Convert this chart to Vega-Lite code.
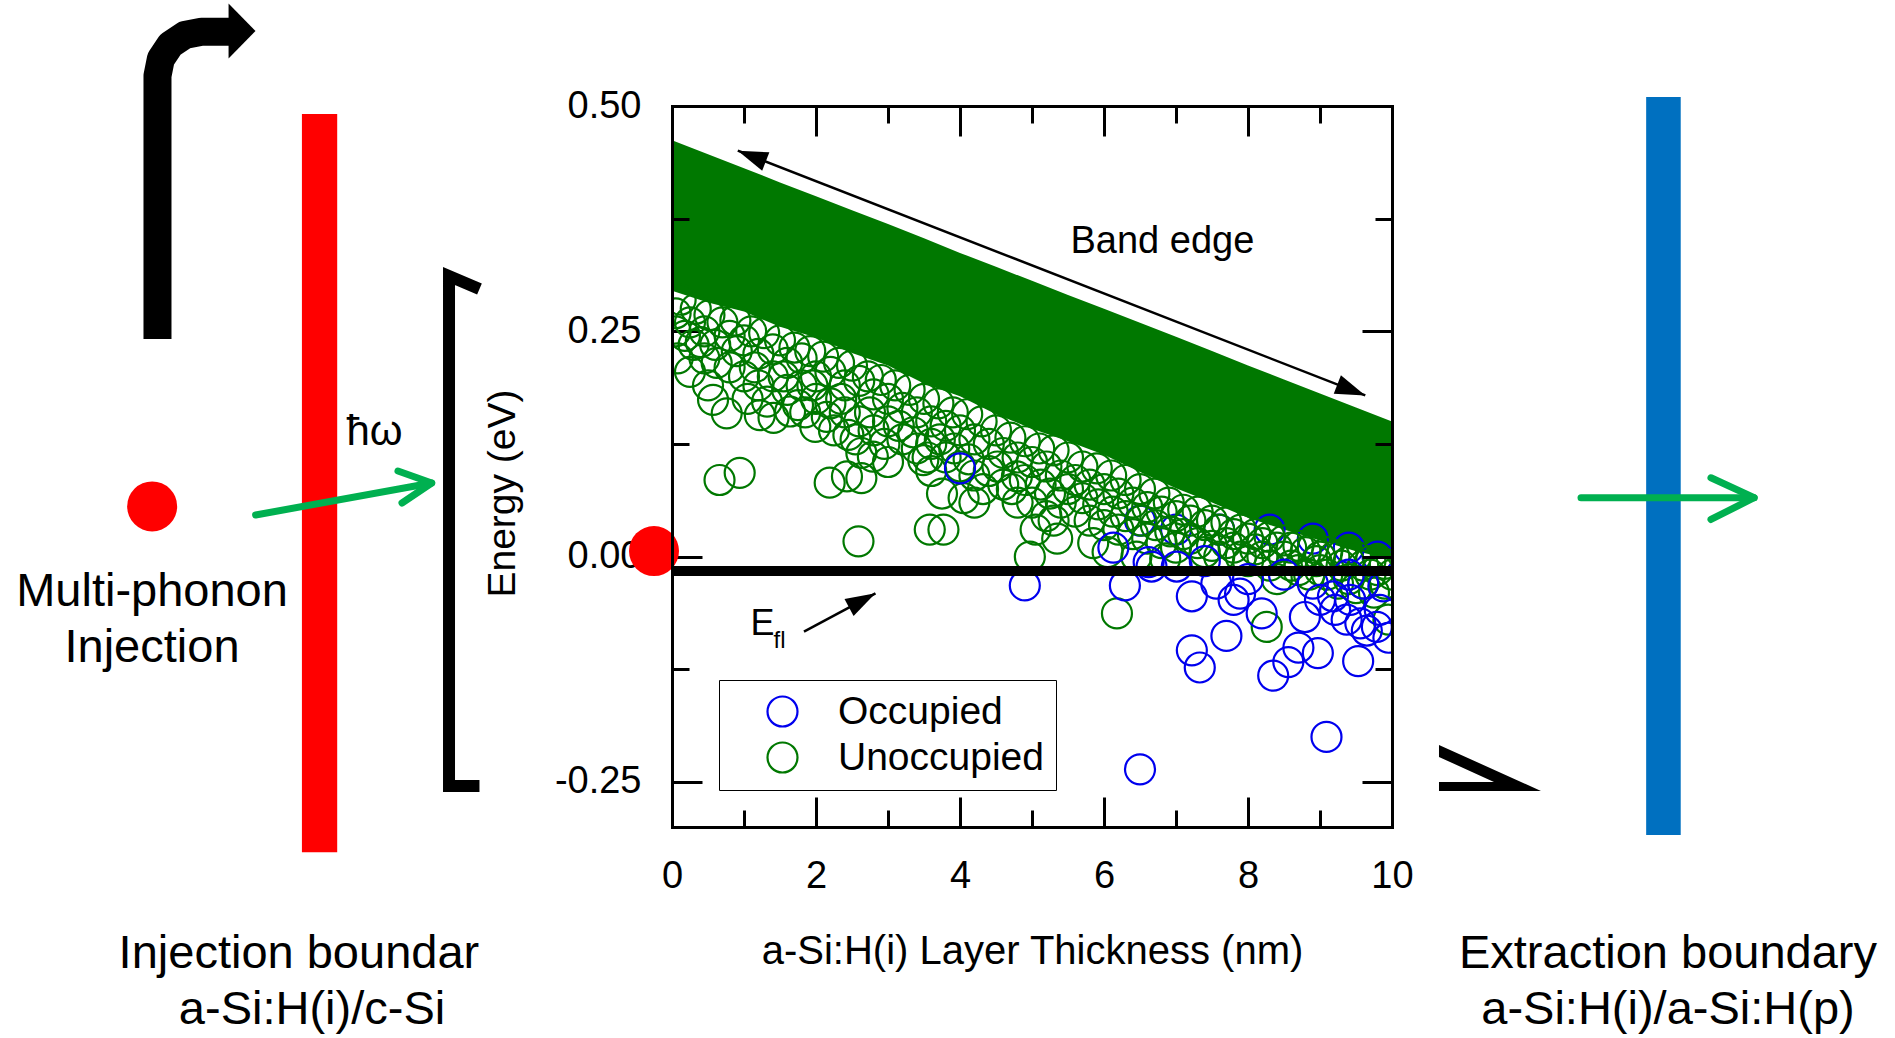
{
 "$schema": "https://vega.github.io/schema/vega-lite/v6.json",
 "width": 720, "height": 721,
 "autosize": {"type": "none"},
 "padding": {"left": 672, "top": 106, "right": 503, "bottom": 211},
 "background": "white",
 "config": {
  "font": "Liberation Sans",
  "view": {"stroke": null},
  "axis": {"grid": false, "domain": false, "tickColor": "black", "tickWidth": 3, "labelColor": "black", "titleColor": "black", "labelFontSize": 38, "titleFontSize": 40, "titleFontWeight": "normal", "labelFlush": false, "labelOverlap": false, "domainColor": "black", "domainWidth": 3, "domainCap": "square"},
  "text": {"color": "black"}
 },
 "resolve": {"axis": {"x": "independent", "y": "independent"}, "scale": {"x": "shared", "y": "shared"}},
 "layer": [
  {
   "data": {"values": [{"x": -5.14, "x2": -4.65, "y": 0.491, "y2": -0.328}]},
   "mark": {"type": "rect", "color": "#FF0000"},
   "encoding": {
    "x": {"field": "x", "type": "quantitative", "scale": {"domain": [0, 10], "nice": false, "zero": false}, "axis": null},
    "x2": {"field": "x2"},
    "y": {"field": "y", "type": "quantitative", "scale": {"domain": [-0.3, 0.5], "nice": false, "zero": false}, "axis": null},
    "y2": {"field": "y2"}
   }
  },
  {
   "data": {"values": [{"x": 13.53, "x2": 14.01, "y": 0.51, "y2": -0.309}]},
   "mark": {"type": "rect", "color": "#0070C0"},
   "encoding": {
    "x": {"field": "x", "type": "quantitative", "scale": {"domain": [0, 10], "nice": false, "zero": false}, "axis": null},
    "x2": {"field": "x2"},
    "y": {"field": "y", "type": "quantitative", "scale": {"domain": [-0.3, 0.5], "nice": false, "zero": false}, "axis": null},
    "y2": {"field": "y2"}
   }
  },
  {
   "data": {"values": [
    {"x": 0, "top": 0.462, "bot": 0.295},
    {"x": 0.5, "top": 0.4464, "bot": 0.282},
    {"x": 1, "top": 0.431, "bot": 0.272},
    {"x": 1.5, "top": 0.4152, "bot": 0.255},
    {"x": 2, "top": 0.4, "bot": 0.243},
    {"x": 2.5, "top": 0.3842, "bot": 0.226},
    {"x": 3, "top": 0.369, "bot": 0.212},
    {"x": 3.5, "top": 0.3532, "bot": 0.192},
    {"x": 4, "top": 0.337, "bot": 0.178},
    {"x": 4.5, "top": 0.3216, "bot": 0.158},
    {"x": 5, "top": 0.306, "bot": 0.142},
    {"x": 5.5, "top": 0.2904, "bot": 0.128},
    {"x": 6, "top": 0.275, "bot": 0.113},
    {"x": 6.5, "top": 0.2594, "bot": 0.094},
    {"x": 7, "top": 0.244, "bot": 0.076},
    {"x": 7.5, "top": 0.2282, "bot": 0.06},
    {"x": 8, "top": 0.212, "bot": 0.043},
    {"x": 8.5, "top": 0.1966, "bot": 0.03},
    {"x": 9, "top": 0.181, "bot": 0.018},
    {"x": 9.5, "top": 0.1654, "bot": 0.006},
    {"x": 10, "top": 0.15, "bot": -0.003}
   ]},
   "mark": {"type": "area", "color": "#007800", "clip": true, "opacity": 1},
   "encoding": {
    "x": {"field": "x", "type": "quantitative", "scale": {"domain": [0, 10], "nice": false, "zero": false},
     "axis": {"orient": "bottom", "values": [0, 2, 4, 6, 8, 10], "tickSize": -30, "labelPadding": 60, "title": "a-Si:H(i) Layer Thickness (nm)", "titleY": 124, "titleBaseline": "middle"}},
    "y": {"field": "top", "type": "quantitative", "scale": {"domain": [-0.3, 0.5], "nice": false, "zero": false},
     "axis": {"orient": "left", "values": [-0.25, 0, 0.25, 0.5], "tickSize": -30, "labelPadding": 61, "labelExpr": "datum.value < 0 ? '-' + format(-datum.value, '.2f') : format(datum.value, '.2f')", "title": "Energy (eV)", "titleFontSize": 39, "titleX": -170, "titleY": 387, "titleAngle": 270, "titleAlign": "center", "titleBaseline": "middle"}},
    "y2": {"field": "bot"}
   }
  },
  {
   "data": {"values": [
    {"x": 6.5, "y": 0.04, "state": "Occupied"}, {"x": 7.0, "y": 0.03, "state": "Occupied"}, {"x": 7.6, "y": 0.03, "state": "Occupied"}, {"x": 8.3, "y": 0.03, "state": "Occupied"}, {"x": 8.9, "y": 0.02, "state": "Occupied"}, {"x": 9.4, "y": 0.01, "state": "Occupied"}, {"x": 9.8, "y": 0.0, "state": "Occupied"},
    {"x": 0.12, "y": 0.285, "state": "Unoccupied"}, {"x": 0.33, "y": 0.275, "state": "Unoccupied"}, {"x": 0.52, "y": 0.268, "state": "Unoccupied"}, {"x": 0.7, "y": 0.26, "state": "Unoccupied"}, {"x": 0.88, "y": 0.262, "state": "Unoccupied"}, {"x": 1.1, "y": 0.25, "state": "Unoccupied"}, {"x": 1.28, "y": 0.248, "state": "Unoccupied"}, {"x": 1.5, "y": 0.24, "state": "Unoccupied"}, {"x": 1.7, "y": 0.232, "state": "Unoccupied"}, {"x": 1.92, "y": 0.228, "state": "Unoccupied"}, {"x": 2.1, "y": 0.222, "state": "Unoccupied"}, {"x": 2.32, "y": 0.215, "state": "Unoccupied"}, {"x": 2.5, "y": 0.212, "state": "Unoccupied"}, {"x": 2.72, "y": 0.2, "state": "Unoccupied"}, {"x": 2.9, "y": 0.196, "state": "Unoccupied"}, {"x": 3.1, "y": 0.19, "state": "Unoccupied"}, {"x": 3.3, "y": 0.185, "state": "Unoccupied"}, {"x": 3.5, "y": 0.175, "state": "Unoccupied"}, {"x": 3.7, "y": 0.17, "state": "Unoccupied"}, {"x": 3.9, "y": 0.16, "state": "Unoccupied"}, {"x": 4.1, "y": 0.158, "state": "Unoccupied"}, {"x": 4.3, "y": 0.15, "state": "Unoccupied"}, {"x": 4.5, "y": 0.14, "state": "Unoccupied"}, {"x": 4.7, "y": 0.132, "state": "Unoccupied"}, {"x": 4.9, "y": 0.128, "state": "Unoccupied"}, {"x": 5.1, "y": 0.12, "state": "Unoccupied"}, {"x": 5.3, "y": 0.118, "state": "Unoccupied"}, {"x": 5.5, "y": 0.11, "state": "Unoccupied"}, {"x": 5.7, "y": 0.1, "state": "Unoccupied"}, {"x": 5.9, "y": 0.098, "state": "Unoccupied"}, {"x": 6.1, "y": 0.09, "state": "Unoccupied"}, {"x": 6.3, "y": 0.085, "state": "Unoccupied"}, {"x": 6.5, "y": 0.075, "state": "Unoccupied"}, {"x": 6.7, "y": 0.07, "state": "Unoccupied"}, {"x": 6.9, "y": 0.06, "state": "Unoccupied"}, {"x": 7.1, "y": 0.052, "state": "Unoccupied"}, {"x": 7.3, "y": 0.05, "state": "Unoccupied"}, {"x": 7.5, "y": 0.04, "state": "Unoccupied"}, {"x": 7.7, "y": 0.038, "state": "Unoccupied"}, {"x": 7.9, "y": 0.03, "state": "Unoccupied"}, {"x": 8.1, "y": 0.025, "state": "Unoccupied"}, {"x": 8.3, "y": 0.022, "state": "Unoccupied"}, {"x": 8.5, "y": 0.018, "state": "Unoccupied"}, {"x": 8.7, "y": 0.012, "state": "Unoccupied"}, {"x": 8.9, "y": 0.01, "state": "Unoccupied"}, {"x": 9.1, "y": 0.005, "state": "Unoccupied"}, {"x": 9.3, "y": 0.002, "state": "Unoccupied"}, {"x": 9.5, "y": 0.0, "state": "Unoccupied"}, {"x": 9.7, "y": -0.005, "state": "Unoccupied"}, {"x": 9.9, "y": -0.008, "state": "Unoccupied"},
    {"x": 0.18, "y": 0.245, "state": "Unoccupied"}, {"x": 0.4, "y": 0.238, "state": "Unoccupied"}, {"x": 0.62, "y": 0.215, "state": "Unoccupied"}, {"x": 0.9, "y": 0.228, "state": "Unoccupied"}, {"x": 1.15, "y": 0.21, "state": "Unoccupied"}, {"x": 1.32, "y": 0.172, "state": "Unoccupied"}, {"x": 1.55, "y": 0.2, "state": "Unoccupied"}, {"x": 1.75, "y": 0.168, "state": "Unoccupied"}, {"x": 1.95, "y": 0.19, "state": "Unoccupied"}, {"x": 2.15, "y": 0.155, "state": "Unoccupied"}, {"x": 2.35, "y": 0.175, "state": "Unoccupied"}, {"x": 2.55, "y": 0.13, "state": "Unoccupied"}, {"x": 2.75, "y": 0.16, "state": "Unoccupied"}, {"x": 2.95, "y": 0.125, "state": "Unoccupied"}, {"x": 3.15, "y": 0.145, "state": "Unoccupied"}, {"x": 3.35, "y": 0.138, "state": "Unoccupied"}, {"x": 3.55, "y": 0.11, "state": "Unoccupied"}, {"x": 3.72, "y": 0.13, "state": "Unoccupied"}, {"x": 3.92, "y": 0.12, "state": "Unoccupied"}, {"x": 4.12, "y": 0.108, "state": "Unoccupied"}, {"x": 4.32, "y": 0.075, "state": "Unoccupied"}, {"x": 4.52, "y": 0.1, "state": "Unoccupied"}, {"x": 4.72, "y": 0.075, "state": "Unoccupied"}, {"x": 4.9, "y": 0.085, "state": "Unoccupied"}, {"x": 5.12, "y": 0.08, "state": "Unoccupied"}, {"x": 5.3, "y": 0.04, "state": "Unoccupied"}, {"x": 5.5, "y": 0.075, "state": "Unoccupied"}, {"x": 5.7, "y": 0.065, "state": "Unoccupied"}, {"x": 5.92, "y": 0.058, "state": "Unoccupied"}, {"x": 6.12, "y": 0.05, "state": "Unoccupied"}, {"x": 6.3, "y": 0.045, "state": "Unoccupied"}, {"x": 6.52, "y": 0.04, "state": "Unoccupied"}, {"x": 6.72, "y": 0.035, "state": "Unoccupied"}, {"x": 6.92, "y": 0.028, "state": "Unoccupied"}, {"x": 7.1, "y": 0.025, "state": "Unoccupied"}, {"x": 7.3, "y": 0.015, "state": "Unoccupied"}, {"x": 7.5, "y": 0.012, "state": "Unoccupied"}, {"x": 7.7, "y": 0.015, "state": "Unoccupied"}, {"x": 7.9, "y": 0.0, "state": "Unoccupied"}, {"x": 8.1, "y": 0.008, "state": "Unoccupied"}, {"x": 8.3, "y": -0.01, "state": "Unoccupied"}, {"x": 8.5, "y": 0.0, "state": "Unoccupied"}, {"x": 8.7, "y": -0.015, "state": "Unoccupied"}, {"x": 8.95, "y": -0.005, "state": "Unoccupied"}, {"x": 9.1, "y": -0.02, "state": "Unoccupied"}, {"x": 9.3, "y": -0.01, "state": "Unoccupied"}, {"x": 9.5, "y": -0.035, "state": "Unoccupied"}, {"x": 9.7, "y": -0.02, "state": "Unoccupied"}, {"x": 9.9, "y": -0.03, "state": "Unoccupied"},
    {"x": 0.05, "y": 0.27, "state": "Unoccupied"}, {"x": 0.05, "y": 0.25, "state": "Unoccupied"}, {"x": 0.08, "y": 0.22, "state": "Unoccupied"},
    {"x": 0.25, "y": 0.26, "state": "Unoccupied"}, {"x": 0.25, "y": 0.205, "state": "Unoccupied"}, {"x": 0.3, "y": 0.235, "state": "Unoccupied"},
    {"x": 0.45, "y": 0.25, "state": "Unoccupied"}, {"x": 0.45, "y": 0.22, "state": "Unoccupied"}, {"x": 0.5, "y": 0.19, "state": "Unoccupied"},
    {"x": 0.6, "y": 0.235, "state": "Unoccupied"}, {"x": 0.57, "y": 0.174, "state": "Unoccupied"},
    {"x": 0.8, "y": 0.245, "state": "Unoccupied"}, {"x": 0.8, "y": 0.21, "state": "Unoccupied"}, {"x": 0.76, "y": 0.159, "state": "Unoccupied"},
    {"x": 1.0, "y": 0.24, "state": "Unoccupied"}, {"x": 1.0, "y": 0.2, "state": "Unoccupied"}, {"x": 1.05, "y": 0.175, "state": "Unoccupied"},
    {"x": 1.2, "y": 0.225, "state": "Unoccupied"}, {"x": 1.22, "y": 0.157, "state": "Unoccupied"}, {"x": 1.2, "y": 0.19, "state": "Unoccupied"},
    {"x": 1.4, "y": 0.23, "state": "Unoccupied"}, {"x": 1.41, "y": 0.154, "state": "Unoccupied"}, {"x": 1.4, "y": 0.2, "state": "Unoccupied"},
    {"x": 1.6, "y": 0.215, "state": "Unoccupied"}, {"x": 1.64, "y": 0.161, "state": "Unoccupied"}, {"x": 1.6, "y": 0.185, "state": "Unoccupied"},
    {"x": 1.8, "y": 0.22, "state": "Unoccupied"}, {"x": 1.8, "y": 0.19, "state": "Unoccupied"}, {"x": 1.85, "y": 0.16, "state": "Unoccupied"},
    {"x": 2.0, "y": 0.2, "state": "Unoccupied"}, {"x": 1.99, "y": 0.144, "state": "Unoccupied"}, {"x": 2.0, "y": 0.175, "state": "Unoccupied"},
    {"x": 2.2, "y": 0.205, "state": "Unoccupied"}, {"x": 2.2, "y": 0.17, "state": "Unoccupied"}, {"x": 2.25, "y": 0.14, "state": "Unoccupied"},
    {"x": 2.4, "y": 0.19, "state": "Unoccupied"}, {"x": 2.4, "y": 0.16, "state": "Unoccupied"}, {"x": 2.45, "y": 0.135, "state": "Unoccupied"},
    {"x": 2.6, "y": 0.195, "state": "Unoccupied"}, {"x": 2.6, "y": 0.15, "state": "Unoccupied"}, {"x": 2.63, "y": 0.115, "state": "Unoccupied"},
    {"x": 2.8, "y": 0.18, "state": "Unoccupied"}, {"x": 2.79, "y": 0.111, "state": "Unoccupied"}, {"x": 2.8, "y": 0.14, "state": "Unoccupied"},
    {"x": 3.0, "y": 0.175, "state": "Unoccupied"}, {"x": 3.0, "y": 0.105, "state": "Unoccupied"}, {"x": 3.0, "y": 0.15, "state": "Unoccupied"},
    {"x": 3.2, "y": 0.165, "state": "Unoccupied"}, {"x": 3.2, "y": 0.13, "state": "Unoccupied"},
    {"x": 3.4, "y": 0.16, "state": "Unoccupied"}, {"x": 3.4, "y": 0.12, "state": "Unoccupied"}, {"x": 3.49, "y": 0.107, "state": "Unoccupied"},
    {"x": 3.6, "y": 0.15, "state": "Unoccupied"}, {"x": 3.6, "y": 0.095, "state": "Unoccupied"}, {"x": 3.6, "y": 0.125, "state": "Unoccupied"},
    {"x": 3.8, "y": 0.145, "state": "Unoccupied"}, {"x": 3.8, "y": 0.11, "state": "Unoccupied"}, {"x": 3.75, "y": 0.07, "state": "Unoccupied"},
    {"x": 4.0, "y": 0.14, "state": "Unoccupied"}, {"x": 4.05, "y": 0.065, "state": "Unoccupied"}, {"x": 4.0, "y": 0.1, "state": "Unoccupied"},
    {"x": 4.2, "y": 0.13, "state": "Unoccupied"}, {"x": 4.2, "y": 0.06, "state": "Unoccupied"}, {"x": 4.2, "y": 0.09, "state": "Unoccupied"},
    {"x": 4.4, "y": 0.125, "state": "Unoccupied"}, {"x": 4.4, "y": 0.095, "state": "Unoccupied"},
    {"x": 4.6, "y": 0.115, "state": "Unoccupied"}, {"x": 4.6, "y": 0.08, "state": "Unoccupied"},
    {"x": 4.79, "y": 0.089, "state": "Unoccupied"}, {"x": 4.8, "y": 0.11, "state": "Unoccupied"}, {"x": 4.8, "y": 0.06, "state": "Unoccupied"},
    {"x": 5.0, "y": 0.105, "state": "Unoccupied"}, {"x": 5.0, "y": 0.06, "state": "Unoccupied"}, {"x": 5.05, "y": 0.03, "state": "Unoccupied"}, {"x": 4.97, "y": 0.0, "state": "Unoccupied"},
    {"x": 5.2, "y": 0.1, "state": "Unoccupied"}, {"x": 5.2, "y": 0.045, "state": "Unoccupied"}, {"x": 5.25, "y": 0.07, "state": "Unoccupied"},
    {"x": 5.4, "y": 0.09, "state": "Unoccupied"}, {"x": 5.4, "y": 0.06, "state": "Unoccupied"}, {"x": 5.35, "y": 0.02, "state": "Unoccupied"},
    {"x": 5.6, "y": 0.085, "state": "Unoccupied"}, {"x": 5.6, "y": 0.05, "state": "Unoccupied"},
    {"x": 5.8, "y": 0.08, "state": "Unoccupied"}, {"x": 5.8, "y": 0.04, "state": "Unoccupied"}, {"x": 5.85, "y": 0.015, "state": "Unoccupied"},
    {"x": 6.0, "y": 0.075, "state": "Unoccupied"}, {"x": 6.0, "y": 0.035, "state": "Unoccupied"}, {"x": 6.05, "y": 0.005, "state": "Unoccupied"},
    {"x": 6.2, "y": 0.07, "state": "Unoccupied"}, {"x": 6.2, "y": 0.03, "state": "Unoccupied"},
    {"x": 6.4, "y": 0.06, "state": "Unoccupied"}, {"x": 6.4, "y": 0.025, "state": "Unoccupied"}, {"x": 6.45, "y": 0.0, "state": "Unoccupied"},
    {"x": 6.6, "y": 0.055, "state": "Unoccupied"}, {"x": 6.6, "y": 0.02, "state": "Unoccupied"},
    {"x": 6.8, "y": 0.05, "state": "Unoccupied"}, {"x": 6.8, "y": 0.015, "state": "Unoccupied"}, {"x": 6.85, "y": -0.002, "state": "Unoccupied"},
    {"x": 7.0, "y": 0.045, "state": "Unoccupied"}, {"x": 7.0, "y": 0.01, "state": "Unoccupied"},
    {"x": 7.2, "y": 0.04, "state": "Unoccupied"}, {"x": 7.2, "y": 0.02, "state": "Unoccupied"},
    {"x": 7.4, "y": 0.035, "state": "Unoccupied"}, {"x": 7.4, "y": 0.005, "state": "Unoccupied"},
    {"x": 7.6, "y": 0.03, "state": "Unoccupied"}, {"x": 7.6, "y": 0.0, "state": "Unoccupied"},
    {"x": 7.8, "y": 0.025, "state": "Unoccupied"}, {"x": 7.8, "y": 0.01, "state": "Unoccupied"},
    {"x": 8.0, "y": 0.02, "state": "Unoccupied"}, {"x": 8.0, "y": -0.005, "state": "Unoccupied"},
    {"x": 8.2, "y": 0.015, "state": "Unoccupied"}, {"x": 8.2, "y": 0.0, "state": "Unoccupied"},
    {"x": 8.4, "y": 0.01, "state": "Unoccupied"}, {"x": 8.4, "y": -0.025, "state": "Unoccupied"},
    {"x": 8.6, "y": 0.01, "state": "Unoccupied"}, {"x": 8.6, "y": -0.01, "state": "Unoccupied"},
    {"x": 8.8, "y": 0.005, "state": "Unoccupied"}, {"x": 8.85, "y": -0.02, "state": "Unoccupied"},
    {"x": 9.0, "y": 0.0, "state": "Unoccupied"}, {"x": 9.0, "y": -0.015, "state": "Unoccupied"},
    {"x": 9.2, "y": 0.0, "state": "Unoccupied"}, {"x": 9.25, "y": -0.03, "state": "Unoccupied"},
    {"x": 9.4, "y": -0.005, "state": "Unoccupied"}, {"x": 9.4, "y": -0.025, "state": "Unoccupied"},
    {"x": 9.6, "y": -0.01, "state": "Unoccupied"}, {"x": 9.6, "y": -0.03, "state": "Unoccupied"},
    {"x": 9.75, "y": -0.04, "state": "Unoccupied"}, {"x": 9.8, "y": -0.015, "state": "Unoccupied"},
    {"x": 10.0, "y": -0.02, "state": "Unoccupied"}, {"x": 9.95, "y": -0.07, "state": "Unoccupied"},
    {"x": 0.66, "y": 0.085, "state": "Unoccupied"}, {"x": 0.94, "y": 0.093, "state": "Unoccupied"}, {"x": 2.19, "y": 0.082, "state": "Unoccupied"}, {"x": 2.43, "y": 0.089, "state": "Unoccupied"}, {"x": 2.63, "y": 0.087, "state": "Unoccupied"}, {"x": 2.59, "y": 0.017, "state": "Unoccupied"}, {"x": 3.58, "y": 0.03, "state": "Unoccupied"}, {"x": 3.77, "y": 0.03, "state": "Unoccupied"}, {"x": 6.18, "y": -0.063, "state": "Unoccupied"}, {"x": 8.26, "y": -0.078, "state": "Unoccupied"},
    {"x": 4.0, "y": 0.098, "state": "Occupied"}, {"x": 4.9, "y": -0.032, "state": "Occupied"}, {"x": 6.13, "y": 0.01, "state": "Occupied"}, {"x": 6.29, "y": -0.032, "state": "Occupied"}, {"x": 6.62, "y": -0.006, "state": "Occupied"}, {"x": 6.66, "y": -0.011, "state": "Occupied"}, {"x": 7.01, "y": -0.011, "state": "Occupied"}, {"x": 7.22, "y": -0.044, "state": "Occupied"}, {"x": 7.56, "y": -0.03, "state": "Occupied"}, {"x": 7.7, "y": -0.088, "state": "Occupied"}, {"x": 7.22, "y": -0.104, "state": "Occupied"}, {"x": 7.33, "y": -0.123, "state": "Occupied"}, {"x": 7.8, "y": -0.048, "state": "Occupied"}, {"x": 7.89, "y": -0.041, "state": "Occupied"}, {"x": 8.19, "y": -0.063, "state": "Occupied"}, {"x": 8.35, "y": -0.132, "state": "Occupied"}, {"x": 8.56, "y": -0.117, "state": "Occupied"}, {"x": 8.7, "y": -0.101, "state": "Occupied"}, {"x": 8.97, "y": -0.107, "state": "Occupied"}, {"x": 8.79, "y": -0.067, "state": "Occupied"}, {"x": 9.0, "y": -0.048, "state": "Occupied"}, {"x": 9.18, "y": -0.044, "state": "Occupied"}, {"x": 9.21, "y": -0.059, "state": "Occupied"}, {"x": 9.42, "y": -0.048, "state": "Occupied"}, {"x": 9.37, "y": -0.07, "state": "Occupied"}, {"x": 9.56, "y": -0.074, "state": "Occupied"}, {"x": 9.65, "y": -0.082, "state": "Occupied"}, {"x": 9.79, "y": -0.078, "state": "Occupied"}, {"x": 9.83, "y": -0.059, "state": "Occupied"}, {"x": 9.88, "y": -0.033, "state": "Occupied"}, {"x": 9.53, "y": -0.116, "state": "Occupied"}, {"x": 9.09, "y": -0.2, "state": "Occupied"}, {"x": 6.5, "y": -0.236, "state": "Occupied"}, {"x": 8.9, "y": -0.03, "state": "Occupied"}, {"x": 9.6, "y": -0.03, "state": "Occupied"}, {"x": 9.95, "y": -0.09, "state": "Occupied"}, {"x": 9.4, "y": -0.02, "state": "Occupied"}, {"x": 8.5, "y": -0.02, "state": "Occupied"}, {"x": 8.0, "y": -0.025, "state": "Occupied"}, {"x": 7.4, "y": -0.005, "state": "Occupied"}
   ]},
   "mark": {"type": "point", "shape": "circle", "filled": false, "size": 900, "strokeWidth": 2.2, "opacity": 1, "clip": true},
   "encoding": {
    "x": {"field": "x", "type": "quantitative", "scale": {"domain": [0, 10], "nice": false, "zero": false},
     "axis": {"orient": "bottom", "values": [1, 3, 5, 7, 9], "tickSize": -17, "labels": false, "title": null, "domain": true, "zindex": 1}},
    "y": {"field": "y", "type": "quantitative", "scale": {"domain": [-0.3, 0.5], "nice": false, "zero": false},
     "axis": {"orient": "left", "values": [-0.125, 0.125, 0.375], "tickSize": -17, "labels": false, "title": null, "domain": true, "zindex": 1}},
    "color": {"field": "state", "type": "nominal", "scale": {"domain": ["Occupied", "Unoccupied"], "range": ["#0000EE", "#007800"]},
     "legend": {"orient": "none", "legendX": 47, "legendY": 574, "title": null, "padding": 12, "symbolOffset": 32, "labelOffset": 36, "labelFontSize": 39, "labelLimit": 400, "symbolSize": 900, "symbolStrokeWidth": 2.2, "rowPadding": 6, "strokeColor": "black", "labelColor": "black"}}
   }
  },
  {
   "data": {"values": [{"y": -0.016}]},
   "mark": {"type": "rule", "color": "black", "strokeWidth": 10},
   "encoding": {
    "y": {"field": "y", "type": "quantitative", "scale": {"domain": [-0.3, 0.5], "nice": false, "zero": false}, "axis": null}
   }
  },
  {
   "data": {"values": [
    {"g": "B", "i": 1, "x": 0.914, "y": 0.4504}, {"g": "B", "i": 2, "x": 9.629, "y": 0.1789},
    {"g": "E", "i": 1, "x": 1.833, "y": -0.0833}, {"g": "E", "i": 2, "x": 2.826, "y": -0.0407}
   ]},
   "mark": {"type": "line", "color": "black", "strokeWidth": 2.5},
   "encoding": {
    "x": {"field": "x", "type": "quantitative", "scale": {"domain": [0, 10], "nice": false, "zero": false},
     "axis": {"orient": "top", "values": [0, 2, 4, 6, 8, 10], "tickSize": -30, "labels": false, "title": null, "domain": true, "zindex": 1}},
    "y": {"field": "y", "type": "quantitative", "scale": {"domain": [-0.3, 0.5], "nice": false, "zero": false},
     "axis": {"orient": "right", "values": [-0.25, 0, 0.25, 0.5], "tickSize": -30, "labels": false, "title": null, "domain": true, "zindex": 1}},
    "detail": {"field": "g"},
    "order": {"field": "i"}
   }
  },
  {
   "data": {"values": [{"x": 9.629, "y": 0.1789}]},
   "mark": {"type": "point", "shape": "M0,0L-0.33,1L0.33,1Z", "size": 3600, "angle": 111.27, "filled": true, "color": "black", "opacity": 1},
   "encoding": {
    "x": {"field": "x", "type": "quantitative", "scale": {"domain": [0, 10], "nice": false, "zero": false}, "axis": null},
    "y": {"field": "y", "type": "quantitative", "scale": {"domain": [-0.3, 0.5], "nice": false, "zero": false}, "axis": null}
   }
  },
  {
   "data": {"values": [{"x": 0.914, "y": 0.4504}]},
   "mark": {"type": "point", "shape": "M0,0L-0.33,1L0.33,1Z", "size": 3600, "angle": 291.27, "filled": true, "color": "black", "opacity": 1},
   "encoding": {
    "x": {"field": "x", "type": "quantitative", "scale": {"domain": [0, 10], "nice": false, "zero": false}, "axis": null},
    "y": {"field": "y", "type": "quantitative", "scale": {"domain": [-0.3, 0.5], "nice": false, "zero": false}, "axis": null}
   }
  },
  {
   "data": {"values": [{"x": 2.826, "y": -0.0407}]},
   "mark": {"type": "point", "shape": "M0,0L-0.32,1L0.32,1Z", "size": 3600, "angle": 61.76, "filled": true, "color": "black", "opacity": 1},
   "encoding": {
    "x": {"field": "x", "type": "quantitative", "scale": {"domain": [0, 10], "nice": false, "zero": false}, "axis": null},
    "y": {"field": "y", "type": "quantitative", "scale": {"domain": [-0.3, 0.5], "nice": false, "zero": false}, "axis": null}
   }
  },
  {
   "data": {"values": [{"x": 6.811, "y": 0.3366, "t": "Band edge"}]},
   "mark": {"type": "text", "fontSize": 38, "align": "center", "baseline": "alphabetic"},
   "encoding": {
    "x": {"field": "x", "type": "quantitative", "scale": {"domain": [0, 10], "nice": false, "zero": false},
     "axis": {"orient": "top", "values": [1, 3, 5, 7, 9], "tickSize": -17, "labels": false, "title": null, "zindex": 1}},
    "y": {"field": "y", "type": "quantitative", "scale": {"domain": [-0.3, 0.5], "nice": false, "zero": false},
     "axis": {"orient": "right", "values": [-0.125, 0.125, 0.375], "tickSize": -17, "labels": false, "title": null, "zindex": 1}},
    "text": {"field": "t"}
   }
  },
  {
   "data": {"values": [{"x": 1.09, "y": -0.087, "t": "E"}]},
   "mark": {"type": "text", "fontSize": 36, "align": "left", "baseline": "alphabetic"},
   "encoding": {
    "x": {"field": "x", "type": "quantitative", "scale": {"domain": [0, 10], "nice": false, "zero": false}, "axis": null},
    "y": {"field": "y", "type": "quantitative", "scale": {"domain": [-0.3, 0.5], "nice": false, "zero": false}, "axis": null},
    "text": {"field": "t"}
   }
  },
  {
   "data": {"values": [{"x": 1.41, "y": -0.1014, "t": "fl"}]},
   "mark": {"type": "text", "fontSize": 24, "align": "left", "baseline": "alphabetic"},
   "encoding": {
    "x": {"field": "x", "type": "quantitative", "scale": {"domain": [0, 10], "nice": false, "zero": false}, "axis": null},
    "y": {"field": "y", "type": "quantitative", "scale": {"domain": [-0.3, 0.5], "nice": false, "zero": false}, "axis": null},
    "text": {"field": "t"}
   }
  },
  {
   "data": {"values": [
    {"i": 1, "x": -7.146, "y": 0.2415}, {"i": 2, "x": -7.146, "y": 0.5336}, {"i": 3, "x": -7.099, "y": 0.5523},
    {"i": 4, "x": -6.967, "y": 0.5681}, {"i": 5, "x": -6.769, "y": 0.5787}, {"i": 6, "x": -6.535, "y": 0.5824}, {"i": 7, "x": -6.14, "y": 0.5824}
   ]},
   "mark": {"type": "line", "color": "black", "strokeWidth": 28, "strokeCap": "butt", "strokeJoin": "round"},
   "encoding": {
    "x": {"field": "x", "type": "quantitative", "scale": {"domain": [0, 10], "nice": false, "zero": false}, "axis": null},
    "y": {"field": "y", "type": "quantitative", "scale": {"domain": [-0.3, 0.5], "nice": false, "zero": false}, "axis": null},
    "order": {"field": "i"}
   }
  },
  {
   "data": {"values": [{"x": -5.972, "y": 0.5832}]},
   "mark": {"type": "point", "shape": "M-0.49,-1L0.49,0L-0.49,1Z", "size": 3025, "filled": true, "color": "black", "opacity": 1},
   "encoding": {
    "x": {"field": "x", "type": "quantitative", "scale": {"domain": [0, 10], "nice": false, "zero": false}, "axis": null},
    "y": {"field": "y", "type": "quantitative", "scale": {"domain": [-0.3, 0.5], "nice": false, "zero": false}, "axis": null}
   }
  },
  {
   "data": {"values": [
    {"i": 1, "x": -2.674, "y": 0.297}, {"i": 2, "x": -3.097, "y": 0.3114}, {"i": 3, "x": -3.097, "y": -0.2545}, {"i": 4, "x": -2.674, "y": -0.2545}
   ]},
   "mark": {"type": "line", "color": "black", "strokeWidth": 12, "strokeCap": "butt", "strokeJoin": "miter"},
   "encoding": {
    "x": {"field": "x", "type": "quantitative", "scale": {"domain": [0, 10], "nice": false, "zero": false}, "axis": null},
    "y": {"field": "y", "type": "quantitative", "scale": {"domain": [-0.3, 0.5], "nice": false, "zero": false}, "axis": null},
    "order": {"field": "i"}
   }
  },
  {
   "data": {"values": [{"x": 11.361, "y": -0.2345}]},
   "mark": {"type": "point", "shape": "M-1,-0.451L1,0.451L-1,0.451L-1,0.275L0.078,0.275L-1,-0.216Z", "size": 10404, "filled": true, "color": "black", "opacity": 1},
   "encoding": {
    "x": {"field": "x", "type": "quantitative", "scale": {"domain": [0, 10], "nice": false, "zero": false}, "axis": null},
    "y": {"field": "y", "type": "quantitative", "scale": {"domain": [-0.3, 0.5], "nice": false, "zero": false}, "axis": null}
   }
  },
  {
   "data": {"values": [
    {"g": "L1", "i": 1, "x": -5.783, "y": 0.0462}, {"g": "L1", "i": 2, "x": -3.3375, "y": 0.0817},
    {"g": "L2", "i": 1, "x": -3.806, "y": 0.095}, {"g": "L2", "i": 2, "x": -3.3375, "y": 0.0817}, {"g": "L2", "i": 3, "x": -3.75, "y": 0.0595},
    {"g": "R1", "i": 1, "x": 12.625, "y": 0.0654}, {"g": "R1", "i": 2, "x": 15.03, "y": 0.0654},
    {"g": "R2", "i": 1, "x": 14.43, "y": 0.0875}, {"g": "R2", "i": 2, "x": 15.03, "y": 0.0654}, {"g": "R2", "i": 3, "x": 14.43, "y": 0.0412}
   ]},
   "mark": {"type": "line", "color": "#00B050", "strokeWidth": 7, "strokeCap": "round", "strokeJoin": "round"},
   "encoding": {
    "x": {"field": "x", "type": "quantitative", "scale": {"domain": [0, 10], "nice": false, "zero": false}, "axis": null},
    "y": {"field": "y", "type": "quantitative", "scale": {"domain": [-0.3, 0.5], "nice": false, "zero": false}, "axis": null},
    "detail": {"field": "g"},
    "order": {"field": "i"}
   }
  },
  {
   "data": {"values": [{"x": -7.22, "y": 0.0557}, {"x": -0.25, "y": 0.0062}]},
   "mark": {"type": "point", "shape": "circle", "size": 2500, "filled": true, "color": "#FF0000", "opacity": 1},
   "encoding": {
    "x": {"field": "x", "type": "quantitative", "scale": {"domain": [0, 10], "nice": false, "zero": false}, "axis": null},
    "y": {"field": "y", "type": "quantitative", "scale": {"domain": [-0.3, 0.5], "nice": false, "zero": false}, "axis": null}
   }
  },
  {
   "data": {"values": [{"x": -4.132, "y": 0.1239, "t": "ħω"}]},
   "mark": {"type": "text", "fontSize": 42, "align": "center", "baseline": "alphabetic"},
   "encoding": {
    "x": {"field": "x", "type": "quantitative", "scale": {"domain": [0, 10], "nice": false, "zero": false}, "axis": null},
    "y": {"field": "y", "type": "quantitative", "scale": {"domain": [-0.3, 0.5], "nice": false, "zero": false}, "axis": null},
    "text": {"field": "t"}
   }
  },
  {
   "data": {"values": [
    {"x": -7.222, "y": -0.0543, "t": "Multi-phonon"}, {"x": -7.222, "y": -0.117, "t": "Injection"},
    {"x": -5.0, "y": -0.5186, "t": "a-Si:H(i)/c-Si"},
    {"x": 13.833, "y": -0.4565, "t": "Extraction boundary"}, {"x": 13.833, "y": -0.5186, "t": "a-Si:H(i)/a-Si:H(p)"}
   ]},
   "mark": {"type": "text", "fontSize": 47, "align": "center", "baseline": "alphabetic"},
   "encoding": {
    "x": {"field": "x", "type": "quantitative", "scale": {"domain": [0, 10], "nice": false, "zero": false}, "axis": null},
    "y": {"field": "y", "type": "quantitative", "scale": {"domain": [-0.3, 0.5], "nice": false, "zero": false}, "axis": null},
    "text": {"field": "t"}
   }
  },
  {
   "data": {"values": [{"x": -7.686, "y": -0.4565, "t": "Injection boundar"}]},
   "mark": {"type": "text", "fontSize": 47, "align": "left", "baseline": "alphabetic"},
   "encoding": {
    "x": {"field": "x", "type": "quantitative", "scale": {"domain": [0, 10], "nice": false, "zero": false}, "axis": null},
    "y": {"field": "y", "type": "quantitative", "scale": {"domain": [-0.3, 0.5], "nice": false, "zero": false}, "axis": null},
    "text": {"field": "t"}
   }
  }
 ]
}
